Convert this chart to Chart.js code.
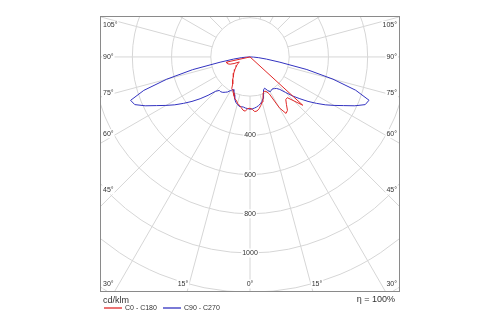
<!DOCTYPE html>
<html>
<head>
<meta charset="utf-8">
<script src="https://cdn.jsdelivr.net/npm/chart.js@4.4.1/dist/chart.umd.min.js"></script>
<style>
    body { margin: 0; background: #fff; }
</style>
</head>
<body>
<canvas id="myChart" width="500" height="325"></canvas>
<script>
'use strict';

// gamma angles in degrees from nadir (0 = straight down, 90 = horizontal)
var gammas = [0, 2.5, 5, 7.5, 10, 12.5, 15, 17.5, 20, 22.5, 25, 27.5, 30, 32.5, 35, 37.5, 40, 42.5,
    45, 47.5, 50, 52.5, 55, 57.5, 60, 62.5, 65, 67.5, 70, 72.5, 75, 77.5, 80, 82.5, 85, 87.5, 90];

// luminous intensity, cd/klm
var c0 = [262, 268, 280, 278, 268, 254, 238, 220, 196, 190, 194, 212, 300, 342, 333, 305, 284, 282,
    318, 365, 0, 0, 0, 0, 0, 0, 0, 0, 0, 0, 0, 0, 0, 0, 0, 0, 0];
var c180 = [262, 264, 278, 274, 262, 252, 245, 232, 227, 214, 202, 190, 186, 164, 154, 145, 133, 125,
    117, 108, 100, 93, 86, 80, 73, 66, 60, 88, 108, 118, 122, 124, 0, 0, 0, 0, 0];
var c90 = [267, 265, 262, 258, 252, 245, 235, 222, 200, 182, 176, 192, 205, 203, 199, 204, 210, 225,
    256, 295, 332, 373, 413, 455, 495, 538, 590, 636, 646, 565, 438, 297, 155, 85, 45, 18, 0];
var c270 = [267, 264, 262, 258, 258, 258, 250, 242, 228, 208, 195, 187, 198, 212, 220, 228, 232, 232,
    248, 290, 332, 373, 413, 455, 495, 538, 590, 636, 648, 568, 440, 300, 155, 85, 45, 18, 0];

var seriesNames = ['C0 - C180', 'C90 - C270'];
var ringTicks = [200, 400, 600, 800, 1000, 1200, 1400, 1600];
var ringLabels = [400, 600, 800, 1000];
var sideAngles = [105, 90, 75, 60, 45];
var bottomAngles = [30, 15, 0, 15, 30];
var unitLabel = 'cd/klm';
var efficiencyLabel = 'η = 100%';

var RED = '#e02828';
var BLUE = '#3232c0';
var TEXT = '#333333';
var FONT = '"Liberation Sans", Arial, sans-serif';

// polar -> chart coordinates, side = 1 right half, -1 left half
function toPoints(values, side) {
    var pts = [];
    for (var i = 0; i < gammas.length; i++) {
        var g = gammas[i] * Math.PI / 180;
        pts.push({ x: side * values[i] * Math.sin(g), y: -values[i] * Math.cos(g) });
    }
    return pts;
}

function planePair(right, left) {
    return toPoints(left, -1).reverse().concat(toPoints(right, 1));
}

function label(ctx, text, x, y, align) {
    var w = ctx.measureText(text).width;
    var x0 = align === 'left' ? x : (align === 'right' ? x - w : x - w / 2);
    ctx.fillStyle = '#fff';
    ctx.fillRect(x0 - 1, y - 4.5, w + 2, 9);
    ctx.fillStyle = TEXT;
    ctx.textAlign = align;
    ctx.fillText(text, x, y);
}

var polarGrid = {
    id: 'polarGrid',
    beforeDatasetsDraw: function (chart) {
        var ctx = chart.ctx, a = chart.chartArea;
        var sx = chart.scales.x, sy = chart.scales.y;
        var cx = sx.getPixelForValue(0), cy = sy.getPixelForValue(0);
        var k = (sx.getPixelForValue(1000) - cx) / 1000;
        var i, t;

        ctx.save();
        ctx.beginPath();
        ctx.rect(a.left, a.top, a.right - a.left, a.bottom - a.top);
        ctx.clip();
        ctx.strokeStyle = '#d6d6d6';
        ctx.lineWidth = 1;
        for (i = 0; i < ringTicks.length; i++) {
            ctx.beginPath();
            ctx.arc(cx, cy, ringTicks[i] * k, 0, 2 * Math.PI);
            ctx.stroke();
        }
        for (i = -180; i <= 180; i += 15) {
            t = i * Math.PI / 180;
            ctx.beginPath();
            ctx.moveTo(cx + 200 * k * Math.sin(t), cy + 200 * k * Math.cos(t));
            ctx.lineTo(cx + 3000 * k * Math.sin(t), cy + 3000 * k * Math.cos(t));
            ctx.stroke();
        }

        ctx.font = '7px ' + FONT;
        ctx.textBaseline = 'middle';
        for (i = 0; i < ringLabels.length; i++) {
            label(ctx, String(ringLabels[i]), cx, cy + ringLabels[i] * k, 'center');
        }
        // angle labels on the left and right edge
        for (i = 0; i < sideAngles.length; i++) {
            t = sideAngles[i] * Math.PI / 180;
            var y = cy;
            if (sideAngles[i] > 90) y = cy + 118 / Math.tan(t);
            else if (sideAngles[i] < 90) y = cy + 133 / Math.tan(t);
            label(ctx, sideAngles[i] + '°', a.left + 3, y, 'left');
            label(ctx, sideAngles[i] + '°', a.right - 3, y, 'right');
        }
        // angle labels along the bottom edge
        var by = a.bottom - 8;
        for (i = 0; i < bottomAngles.length; i++) {
            var side = i < 2 ? -1 : 1;
            t = bottomAngles[i] * Math.PI / 180;
            if (i === 0) {
                label(ctx, bottomAngles[i] + '°', a.left + 3, by, 'left');
            } else if (i === bottomAngles.length - 1) {
                label(ctx, bottomAngles[i] + '°', a.right - 3, by, 'right');
            } else {
                label(ctx, bottomAngles[i] + '°', cx + side * (a.bottom - cy + 15) * Math.tan(t), by, 'center');
            }
        }
        ctx.restore();
    },
    afterDraw: function (chart) {
        var ctx = chart.ctx, a = chart.chartArea;
        ctx.save();
        ctx.strokeStyle = '#8a8a8a';
        ctx.lineWidth = 1;
        ctx.strokeRect(a.left + 0.5, a.top + 0.5, a.right - a.left - 1, a.bottom - a.top - 1);

        ctx.fillStyle = TEXT;
        ctx.textBaseline = 'middle';
        ctx.font = '9px ' + FONT;
        ctx.textAlign = 'left';
        ctx.fillText(unitLabel, a.left + 3, a.bottom + 9);
        ctx.textAlign = 'right';
        ctx.fillText(efficiencyLabel, a.right - 5, a.bottom + 8);

        // legend
        var colors = [RED, BLUE];
        var lx = [a.left + 4, a.left + 63];
        ctx.font = '7px ' + FONT;
        ctx.textAlign = 'left';
        for (var i = 0; i < seriesNames.length; i++) {
            ctx.globalAlpha = 0.65;
            ctx.strokeStyle = colors[i];
            ctx.lineWidth = 2;
            ctx.beginPath();
            ctx.moveTo(lx[i], a.bottom + 16);
            ctx.lineTo(lx[i] + 18, a.bottom + 16);
            ctx.stroke();
            ctx.globalAlpha = 1;
            ctx.fillStyle = TEXT;
            ctx.fillText(seriesNames[i], lx[i] + 21, a.bottom + 16);
        }
        ctx.restore();
    }
};

var ctx = document.getElementById('myChart').getContext('2d');

var chart = new Chart(ctx, {
    type: 'scatter',
    data: {
        datasets: [{
                label: seriesNames[0],
                data: planePair(c0, c180),
                borderColor: RED,
                backgroundColor: RED,
                showLine: true
            },
            {
                label: seriesNames[1],
                data: planePair(c90, c270),
                borderColor: BLUE,
                backgroundColor: BLUE,
                showLine: true
            }
        ]
    },
    options: {
        responsive: false,
        animation: false,
        layout: { padding: { left: 100, right: 100, top: 16, bottom: 33 } },
        elements: {
            point: { radius: 0, hoverRadius: 0 },
            line: { borderWidth: 1, tension: 0 }
        },
        plugins: {
            legend: { display: false },
            tooltip: { enabled: false }
        },
        scales: {
            x: { type: 'linear', min: -765, max: 765, display: false },
            y: { type: 'linear', min: -1200, max: 209, display: false }
        }
    },
    plugins: [polarGrid]
});
</script>
</body>
</html>
